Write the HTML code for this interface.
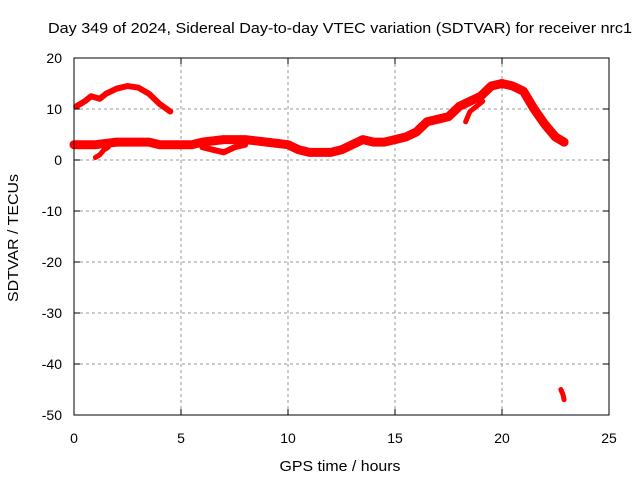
<!DOCTYPE html>
<html><head><meta charset="utf-8"><style>
body{margin:0;background:#fff}
svg{display:block;font-family:"Liberation Sans",sans-serif}
</style></head><body>
<svg id="chart" width="640" height="480" xmlns="http://www.w3.org/2000/svg">
<text x="340" y="33" font-size="15" text-anchor="middle" textLength="584" lengthAdjust="spacingAndGlyphs">Day 349 of 2024, Sidereal Day-to-day VTEC variation (SDTVAR) for receiver nrc1</text>
<text x="340" y="471" font-size="15" text-anchor="middle" textLength="121" lengthAdjust="spacingAndGlyphs">GPS time / hours</text>
<text x="18" y="238" font-size="15" text-anchor="middle" transform="rotate(-90 18 238)" textLength="128" lengthAdjust="spacingAndGlyphs">SDTVAR / TECUs</text>
<g id="grid"></g>
<g id="marks"></g>
<rect x="74" y="58" width="535" height="357" fill="none" stroke="#000" stroke-width="1"/>
<g id="ticks"></g>
</svg>
<script>
const xTicks=[0,5,10,15,20,25];
const yTicks=[20,10,0,-10,-20,-30,-40,-50];
const arcHours=[0.1,0.5,0.8,1.2,1.5,2,2.5,3,3.5,4,4.5];
const arcValues=[10.5,11.5,12.5,12,13,14,14.5,14.2,13,11,9.5];
const bandHours=[0,1,2,3,3.5,4,5,5.5,6,7,8,9,10,10.5,11,12,12.5,13,13.5,14,14.5,15,15.5,16,16.5,17,17.5,18,18.5,19,19.5,20,20.5,21,21.5,22,22.5,22.9];
const bandValues=[3,3,3.5,3.5,3.5,3,3,3,3.5,4,4,3.5,3,2,1.5,1.5,2,3,4,3.5,3.5,4,4.5,5.5,7.5,8,8.5,10.5,11.5,12.5,14.5,15,14.5,13.5,10,7,4.5,3.5];
const lowHours=[6,6.5,7,7.5,8];
const lowValues=[2.5,2,1.5,2.5,3];
const dipHours=[1.0,1.2,1.4,1.6];
const dipValues=[0.5,1,2,2.5];
const branchHours=[18.3,18.5,18.8,19.1];
const branchValues=[7.5,9.5,10.5,11.5];
const outHours=[22.75,22.85,22.9];
const outValues=[-45,-46,-47];
const X=h=>74+h*535/25, Y=v=>160-v*5.1;
const ns="http://www.w3.org/2000/svg";
const grid=document.getElementById('grid'),ticks=document.getElementById('ticks'),marks=document.getElementById('marks');
function mk(tag,attrs,parent){const e=document.createElementNS(ns,tag);for(const k in attrs)e.setAttribute(k,attrs[k]);parent.appendChild(e);return e;}
xTicks.forEach(t=>{const x=X(t);
 if(t>0&&t<25){const g=mk('line',{x1:x,x2:x,y1:58,y2:415,stroke:'#999','stroke-dasharray':'3,3'},grid);}
 const a=mk('line',{x1:x,x2:x,y1:415,y2:409,stroke:'#000'},ticks);
 const b=mk('line',{x1:x,x2:x,y1:58,y2:64,stroke:'#000'},ticks);
 const l=mk('text',{x:x,y:443,'font-size':14,'text-anchor':'middle'},ticks);l.textContent=t;});
yTicks.forEach(t=>{const y=Y(t);
 if(t<20&&t>-50){const g=mk('line',{x1:74,x2:609,y1:y,y2:y,stroke:'#999','stroke-dasharray':'3,3'},grid);}
 const a=mk('line',{x1:74,x2:80,y1:y,y2:y,stroke:'#000'},ticks);
 const b=mk('line',{x1:603,x2:609,y1:y,y2:y,stroke:'#000'},ticks);
 const l=mk('text',{x:62,y:y+5,'font-size':14,'text-anchor':'end'},ticks);l.textContent=t;});
function series(hs,vs,w,name){const p=hs.map((h,i)=>X(h)+','+Y(vs[i])).join(' ');
 const e=mk('polyline',{points:p,fill:'none',stroke:'#f00','stroke-width':w,'stroke-linejoin':'round','stroke-linecap':'round'},marks);
 }
series(arcHours,arcValues,6,'arc-series');
series(bandHours,bandValues,9,'main-band-series');
series(lowHours,lowValues,6,'low-band-series');
series(dipHours,dipValues,5,'dip-series');
series(branchHours,branchValues,5,'branch-series');
series(outHours,outValues,5,'outlier-series');
</script>
</body></html>
